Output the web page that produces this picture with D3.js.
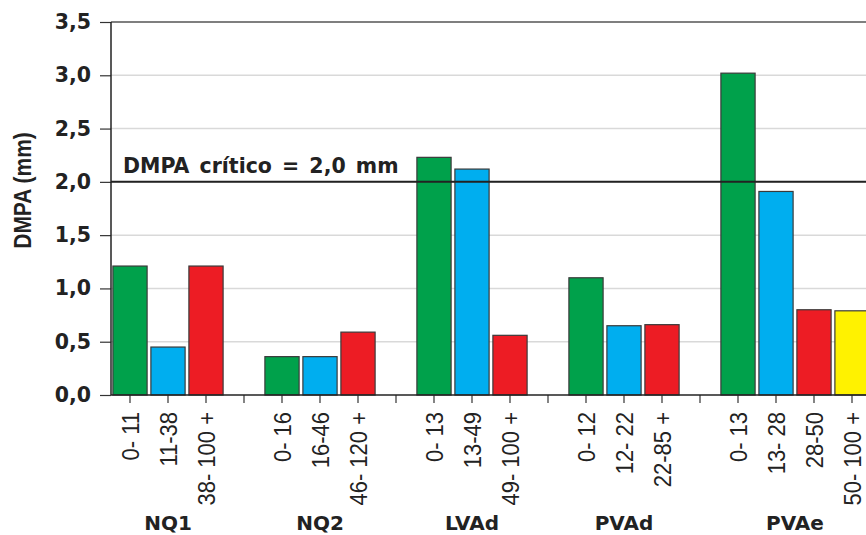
<!DOCTYPE html>
<html><head><meta charset="utf-8">
<script src="https://cdn.jsdelivr.net/npm/d3@7"></script>
<style>
html,body{margin:0;padding:0;background:#fff;overflow:hidden}
svg{display:block}
</style></head>
<body>
<svg id="c" width="866" height="535"></svg>
<script>
const groups = ["NQ1", "NQ2", "LVAd", "PVAd", "PVAe"];
const classes = [
  ["0- 11", "11-38", "38- 100 +"],
  ["0- 16", "16-46", "46- 120 +"],
  ["0- 13", "13-49", "49- 100 +"],
  ["0- 12", "12- 22", "22-85 +"],
  ["0- 13", "13- 28", "28-50", "50- 100 +"]
];
const values = [
  [1.21, 0.45, 1.21],
  [0.36, 0.36, 0.59],
  [2.23, 2.12, 0.56],
  [1.10, 0.65, 0.66],
  [3.02, 1.91, 0.80, 0.79]
];
const colors = ["#00a14b", "#00aeef", "#ed1c24", "#fff200"];
const yTicks = [0, 0.5, 1.0, 1.5, 2.0, 2.5, 3.0, 3.5];
const critical = 2.0;
const criticalLabel = "DMPA crítico = 2,0 mm";
const yTitle = "DMPA (mm)";

const svg = d3.select("#c");
const W = 866;
const x0 = 111, yBot = 395, yTop = 22;

const slots = [];
const bars = [];
groups.forEach((g, gi) => {
  classes[gi].forEach((c, ci) => {
    const key = g + "|" + c;
    slots.push(key);
    bars.push({ key, g, c, v: values[gi][ci], color: colors[ci] });
  });
  if (gi < groups.length - 1) slots.push("gap" + gi);
});

const x = d3.scaleBand().domain(slots).range([x0, x0 + slots.length * 38])
  .paddingInner(0.1).paddingOuter(0.05);
const y = d3.scaleLinear().domain([0, 3.5]).range([yBot, yTop]);
const fmt = v => d3.format(".1f")(v).replace(".", ",");

svg.append("g").selectAll("line").data(yTicks.filter(t => t > 0 && t < 3.5)).join("line")
  .attr("x1", x0).attr("x2", W).attr("y1", d => y(d)).attr("y2", d => y(d))
  .attr("stroke", "#d9d9d9").attr("stroke-width", 1.5);
svg.append("line").attr("x1", x0).attr("x2", W).attr("y1", y(3.5)).attr("y2", y(3.5))
  .attr("stroke", "#555").attr("stroke-width", 1.5);

svg.append("g").selectAll("rect").data(bars).join("rect")
  .attr("x", d => x(d.key)).attr("width", x.bandwidth())
  .attr("y", d => y(d.v)).attr("height", d => y(0) - y(d.v))
  .attr("fill", d => d.color).attr("stroke", "#3a3a3a").attr("stroke-width", 1.2);

const yAxis = d3.axisLeft(y).tickValues(yTicks).tickFormat(fmt).tickSize(11).tickPadding(9);
const ya = svg.append("g").attr("transform", `translate(${x0},0)`).call(yAxis);
ya.select(".domain").remove();
ya.selectAll(".tick line").attr("stroke", "#333").attr("stroke-width", 1.2);
ya.selectAll(".tick text").attr("font-family", "DejaVu Sans, sans-serif")
  .attr("font-weight", "bold").attr("font-size", 20.5).attr("fill", "#222");
svg.append("line").attr("x1", x0).attr("x2", x0).attr("y1", yTop).attr("y2", yBot)
  .attr("stroke", "#222").attr("stroke-width", 1.5);

const xAxis = d3.axisBottom(x).tickSize(8).tickFormat("");
const xa = svg.append("g").attr("transform", `translate(0,${yBot})`).call(xAxis);
xa.select(".domain").remove();
xa.selectAll(".tick line").attr("stroke", "#333").attr("stroke-width", 1.2);
svg.append("line").attr("x1", x0).attr("x2", W).attr("y1", yBot).attr("y2", yBot)
  .attr("stroke", "#222").attr("stroke-width", 1.5);

svg.append("g").selectAll("text").data(bars).join("text")
  .attr("transform", d => `translate(${x(d.key) + x.bandwidth() / 2},412) scale(1.08,1) rotate(-90)`)
  .attr("text-anchor", "end").attr("dy", "0.36em")
  .attr("font-family", "Liberation Sans, Arial, sans-serif").attr("font-size", 22)
  .attr("fill", "#222").attr("xml:space", "preserve")
  .text(d => d.c);

svg.append("g").selectAll("text").data(groups).join("text")
  .attr("x", (g, gi) => {
    const ks = classes[gi].map(c => g + "|" + c);
    return (x(ks[0]) + x(ks[ks.length - 1]) + x.bandwidth()) / 2;
  })
  .attr("y", 530).attr("text-anchor", "middle")
  .attr("font-family", "DejaVu Sans, sans-serif").attr("font-weight", "bold")
  .attr("font-size", 20).attr("fill", "#222").text(d => d);

svg.append("line").attr("x1", x0).attr("x2", W).attr("y1", y(critical)).attr("y2", y(critical))
  .attr("stroke", "#222").attr("stroke-width", 2);
svg.append("text").attr("x", 123).attr("y", 173)
  .attr("font-family", "DejaVu Sans, sans-serif").attr("font-weight", "bold")
  .attr("word-spacing", 3)
  .attr("font-size", 20.5).attr("fill", "#222").text(criticalLabel);

svg.append("text")
  .attr("transform", `translate(31,${(138 + 243) / 2}) scale(1.15,1) rotate(-90)`)
  .attr("text-anchor", "middle")
  .attr("font-family", "Liberation Sans, Arial, sans-serif").attr("font-weight", "bold")
  .attr("font-size", 21).attr("fill", "#222").text(yTitle);
</script>
</body></html>
